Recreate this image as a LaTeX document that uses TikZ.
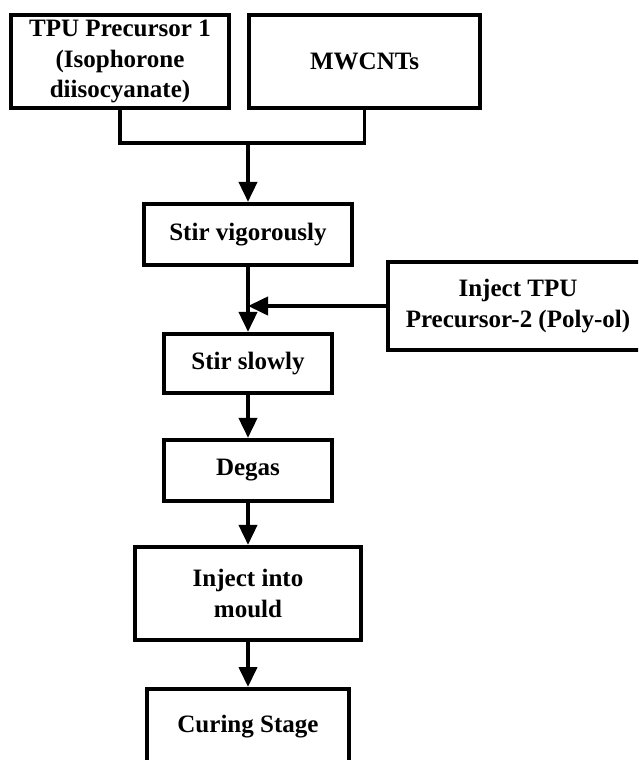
\documentclass[tikz,border=0pt]{standalone}
\usepackage{fontspec}
\setmainfont{Liberation Serif}
\usetikzlibrary{arrows.meta}

\tikzset{
  box/.style={draw, line width=2.8pt, align=center, inner sep=0pt,
    font=\fontsize{17.8}{21.5}\selectfont\bfseries},
  flow/.style={line width=2.8pt},
  arrow/.style={flow, -{Triangle[length=0.5cm,width=0.45cm]}}
}

\begin{document}
\begin{tikzpicture}[x=0.025cm, y=-0.025cm]
    \clip (0,0) rectangle (638,760);
    \fill[white] (0,0) rectangle (638,760);

    % Starting materials
    \node[box, minimum width=5.43cm, minimum height=2.33cm] (tpu1) at (120,61.5) {TPU Precursor 1\\(Isophorone\\diisocyanate)};
    \node[box, minimum width=5.78cm, minimum height=2.33cm] (cnt) at (364.5,61.5) {MWCNTs};

    % Merge point
    \coordinate (join) at (248,143);
    \draw[flow] (tpu1.south) |- (join);
    \draw[flow] (cnt.south) |- (join);

    % Mixing stages
    \node[box, minimum width=5.18cm, minimum height=1.53cm] (stirfast) at (248,234.5) {Stir vigorously};
    \draw[arrow] (join) -- (stirfast);

    \node[box, minimum width=4.18cm, minimum height=1.48cm] (stirslow) at (248,363.5) {Stir slowly};
    \draw[arrow] (stirfast) -- (stirslow);

    % Side input
    \node[box, minimum width=6.5cm, minimum height=2.2cm] (polyol) at (518,306) {Inject TPU\\Precursor-2 (Poly-ol)};
    \draw[arrow] (polyol.west) -- (polyol.west -| stirslow.north);

    % Processing stages
    \node[box, minimum width=4.2cm, minimum height=1.53cm] (degas) at (248,470.5) {Degas};
    \draw[arrow] (stirslow) -- (degas);

    \node[box, minimum width=5.65cm, minimum height=2.33cm] (mould) at (248,593.5) {Inject into\\mould};
    \draw[arrow] (degas) -- (mould);

    \node[box, minimum width=5.05cm, minimum height=1.9cm] (cure) at (248,727) {Curing Stage};
    \draw[arrow] (mould) -- (cure);
\end{tikzpicture}
\end{document}
